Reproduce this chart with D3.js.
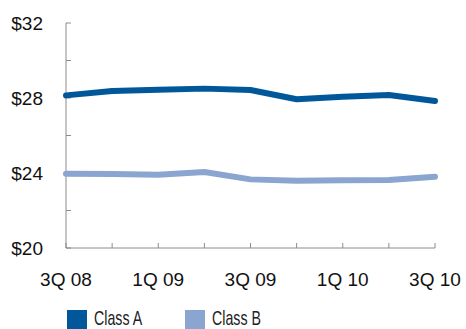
<!DOCTYPE html>
<html>
<head>
<meta charset="utf-8">
<script src="https://cdn.jsdelivr.net/npm/d3@7"></script>
<style>
  body { margin: 0; background: #fff; }
  svg { display: block; }
</style>
</head>
<body>
<div id="chart"></div>
<script>
// data
var quarters = ["3Q 08", "4Q 08", "1Q 09", "2Q 09", "3Q 09", "4Q 09", "1Q 10", "2Q 10", "3Q 10"];
var classA = [28.14, 28.37, 28.44, 28.50, 28.43, 27.93, 28.07, 28.16, 27.84];
var classB = [23.96, 23.95, 23.91, 24.05, 23.66, 23.59, 23.61, 23.63, 23.80];
var yTicks = [20, 22, 24, 26, 28, 30, 32];
var yLabels = [20, 24, 28, 32];
var xLabels = ["3Q 08", "1Q 09", "3Q 09", "1Q 10", "3Q 10"];
var seriesNames = ["Class A", "Class B"];
var colors = ["#00589a", "#8aa5cf"];

var width = 466, height = 329;
var margin = {left: 66, right: 435, top: 23, bottom: 248};

var svg = d3.select("#chart").append("svg")
    .attr("width", width)
    .attr("height", height);

var x = d3.scalePoint().domain(quarters).range([margin.left, margin.right]);
var y = d3.scaleLinear().domain([20, 32]).range([margin.bottom, margin.top]);

var axisColor = "#8c8c8c";

// y axis line + inner ticks
svg.append("line")
    .attr("x1", margin.left).attr("x2", margin.left)
    .attr("y1", y(32)).attr("y2", y(20))
    .attr("stroke", axisColor).attr("stroke-width", 1);
svg.selectAll(".ytick")
    .data(yTicks)
    .enter().append("line")
    .attr("x1", margin.left).attr("x2", margin.left + 5)
    .attr("y1", d => y(d)).attr("y2", d => y(d))
    .attr("stroke", axisColor).attr("stroke-width", 1);

// x axis line + inner ticks
svg.append("line")
    .attr("x1", margin.left).attr("x2", margin.right)
    .attr("y1", y(20)).attr("y2", y(20))
    .attr("stroke", axisColor).attr("stroke-width", 1);
svg.selectAll(".xtick")
    .data(quarters)
    .enter().append("line")
    .attr("x1", d => x(d)).attr("x2", d => x(d))
    .attr("y1", y(20)).attr("y2", y(20) - 5)
    .attr("stroke", axisColor).attr("stroke-width", 1);

// y labels
svg.selectAll(".ylab")
    .data(yLabels)
    .enter().append("text")
    .attr("x", 43)
    .attr("y", d => y(d))
    .attr("dy", "0.36em")
    .attr("text-anchor", "end")
    .attr("font-family", "Liberation Sans, Arial, sans-serif")
    .attr("font-size", 19)
    .attr("fill", "#111")
    .text(d => "$" + d);

// x labels
svg.selectAll(".xlab")
    .data(xLabels)
    .enter().append("text")
    .attr("x", d => x(d))
    .attr("y", 286)
    .attr("text-anchor", "middle")
    .attr("font-family", "Liberation Sans, Arial, sans-serif")
    .attr("font-size", 19)
    .attr("fill", "#111")
    .text(d => d);

// lines
var line = d3.line()
    .x((d, i) => x(quarters[i]))
    .y(d => y(d));

[classA, classB].forEach(function(vals, i) {
    svg.append("path")
        .datum(vals)
        .attr("d", line)
        .attr("fill", "none")
        .attr("stroke", colors[i])
        .attr("stroke-width", 6)
        .attr("stroke-linecap", "round")
        .attr("stroke-linejoin", "round");
});

// legend (condensed text via horizontal squeeze)
var legendX = [67, 185];
seriesNames.forEach(function(name, i) {
    svg.append("rect")
        .attr("x", legendX[i]).attr("y", 310)
        .attr("width", 20).attr("height", 20)
        .attr("fill", colors[i]);
    svg.append("text")
        .attr("transform", "translate(" + (legendX[i] + 27) + ",325) scale(0.71,1)")
        .attr("font-family", "Liberation Sans, Arial, sans-serif")
        .attr("font-size", 20)
        .attr("fill", "#222")
        .text(name);
});
</script>
</body>
</html>
